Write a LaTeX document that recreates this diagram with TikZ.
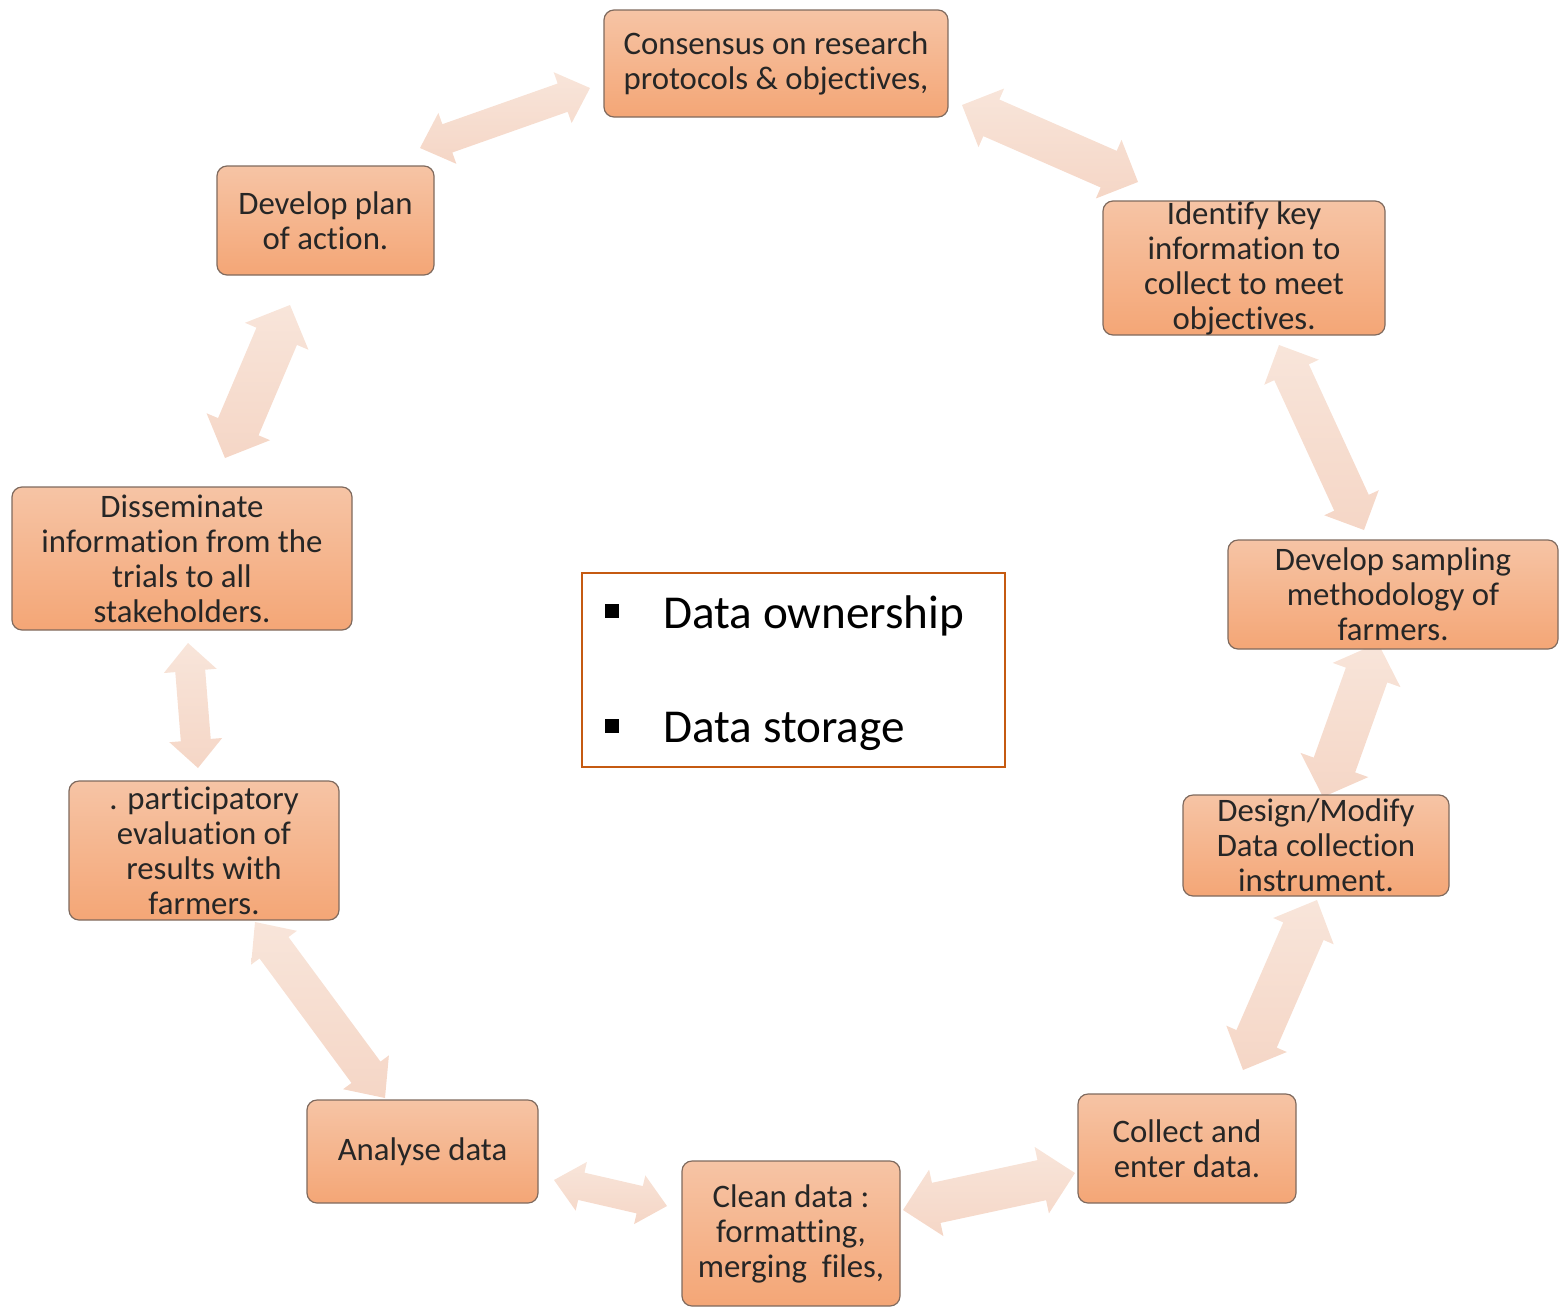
\documentclass[tikz,border=0pt]{standalone}
\usepackage{fontspec}
\setmainfont{Carlito}[Ligatures={NoCommon}]
\usetikzlibrary{calc}
\definecolor{boxtop}{HTML}{F6C4A5}
\definecolor{boxbot}{HTML}{F4A676}
\definecolor{boxline}{HTML}{7F6A5E}
\definecolor{arrtop}{HTML}{F8E5DA}
\definecolor{arrbot}{HTML}{F5D6C6}
\definecolor{txt}{HTML}{262626}
\definecolor{cbox}{HTML}{C55A11}
\tikzset{
  stagebox/.style={draw=boxline, line width=0.6pt, rounded corners=5pt,
    top color=boxtop, bottom color=boxbot, align=center, inner sep=0pt,
    text=txt, font=\fontsize{16.4}{17.5}\selectfont},
  arr/.style={top color=arrtop, bottom color=arrbot, draw=none},
}
% #1 tip A, #2 tip B, #3 shaft width px, #4 head width px, #5 head length px
\newcommand\dblarrow[5]{%
  \path ($(#1)!#5*0.5pt!(#2)$) coordinate (#1c) ($(#2)!#5*0.5pt!(#1)$) coordinate (#2c);
  \shade[arr] (#1) -- ($(#1c)!#4*0.25pt!90:(#2)$) -- ($(#1c)!#3*0.25pt!90:(#2)$)
    -- ($(#2c)!#3*0.25pt!-90:(#1)$) -- ($(#2c)!#4*0.25pt!-90:(#1)$) -- (#2)
    -- ($(#2c)!#4*0.25pt!90:(#1)$) -- ($(#2c)!#3*0.25pt!90:(#1)$)
    -- ($(#1c)!#3*0.25pt!-90:(#2)$) -- ($(#1c)!#4*0.25pt!-90:(#2)$) -- cycle;
}
\begin{document}
\begin{tikzpicture}[x=0.5pt,y=-0.5pt]
\useasboundingbox (0,0) rectangle (1563,1312);

% arrow tips
\coordinate (a1s) at (420,148);  \coordinate (a1e) at (590,88);
\coordinate (a2s) at (962,105);  \coordinate (a2e) at (1138,182);
\coordinate (a3s) at (1279,345); \coordinate (a3e) at (1364,530);
\coordinate (a4s) at (1378,643); \coordinate (a4e) at (1323,797);
\coordinate (a5s) at (1317,900); \coordinate (a5e) at (1243,1070);
\coordinate (a6s) at (1075,1173);\coordinate (a6e) at (903,1210);
\coordinate (a7s) at (667,1206); \coordinate (a7e) at (554,1180);
\coordinate (a8s) at (255,922);  \coordinate (a8e) at (385,1098);
\coordinate (a9s) at (188,643);  \coordinate (a9e) at (198,768);
\coordinate (a10s) at (290,305); \coordinate (a10e) at (225,458);

\dblarrow{a1s}{a1e}{30}{54}{29}
\dblarrow{a2s}{a2e}{40}{64}{32}
\dblarrow{a3s}{a3e}{38}{60}{30}
\dblarrow{a4s}{a4e}{44}{72}{34}
\dblarrow{a5s}{a5e}{44}{66}{34}
\dblarrow{a6s}{a6e}{41}{68}{34}
\dblarrow{a7s}{a7e}{28}{50}{28}
\dblarrow{a8s}{a8e}{36}{57}{32}
\dblarrow{a9s}{a9e}{30}{53}{28}
\dblarrow{a10s}{a10e}{44}{69}{34}

% boxes
\node[stagebox, minimum width=172pt, minimum height=53.5pt] (cons) at (776,63.5)
  {Consensus on research\\protocols \& objectives,};
\node[stagebox, minimum width=141pt, minimum height=67pt] (ident) at (1244,268)
  {Identify key\\information to\\collect to meet\\objectives.};
\node[stagebox, minimum width=165pt, minimum height=54.5pt] (samp) at (1393,594.5)
  {Develop sampling\\methodology of\\farmers.};
\node[stagebox, minimum width=133pt, minimum height=50.5pt] (design) at (1316,845.5)
  {Design/Modify\\Data collection\\instrument.};
\node[stagebox, minimum width=109pt, minimum height=54.5pt] (collect) at (1187,1148.5)
  {Collect and\\enter data.};
\node[stagebox, minimum width=109pt, minimum height=72.5pt] (clean) at (791,1233.5)
  {Clean data :\\formatting,\\merging\ \ files,};
\node[stagebox, minimum width=115.5pt, minimum height=51.5pt] (analyse) at (422.5,1151.5)
  {Analyse data};
\node[stagebox, minimum width=135pt, minimum height=69.5pt] (partic) at (204,850.5)
  {. participatory\\evaluation of\\results with\\farmers.};
\node[stagebox, minimum width=170pt, minimum height=71.5pt] (dissem) at (182,558.5)
  {Disseminate\\information from the\\trials to all\\stakeholders.};
\node[stagebox, minimum width=108.5pt, minimum height=54.5pt] (plan) at (325.5,220.5)
  {Develop plan\\of action.};

% central box
\node[draw=cbox, line width=0.8pt, minimum width=211.5pt, minimum height=97pt, inner sep=0pt] (centre) at (793.5,670) {};
\node[fill=black, minimum size=7pt, inner sep=0pt] (b1) at (612,610.5) {};
\node[fill=black, minimum size=7pt, inner sep=0pt] (b2) at (612,725.5) {};
\node[anchor=base west, inner sep=0pt, font=\fontsize{23.6}{28}\selectfont] (t1) at (663,628) {Data ownership};
\node[anchor=base west, inner sep=0pt, font=\fontsize{23.6}{28}\selectfont] (t2) at (663,742) {Data storage};
\end{tikzpicture}
\end{document}
